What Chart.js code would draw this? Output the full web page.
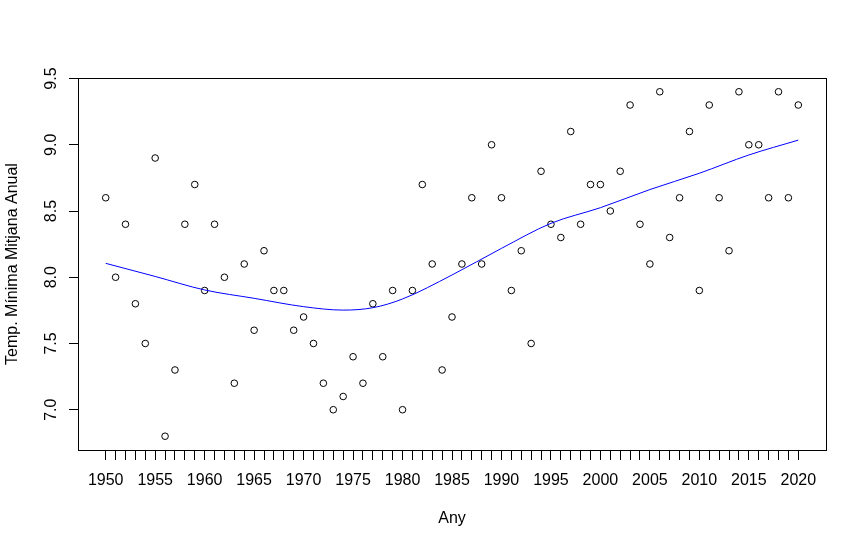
<!DOCTYPE html>
<html>
<head>
<meta charset="utf-8">
<script src="https://cdn.jsdelivr.net/npm/chart.js@4.4.1/dist/chart.umd.min.js"></script>
<style>
  html, body { margin: 0; padding: 0; background: #fff; }
  #wrap { width: 866px; height: 548px; }
</style>
</head>
<body>
<div id="wrap"><canvas id="chart"></canvas></div>
<script>
// Temp. minima mitjana anual, 1950-2020, with lowess trend
const years = [
  1950, 1951, 1952, 1953, 1954, 1955, 1956, 1957, 1958, 1959,
  1960, 1961, 1962, 1963, 1964, 1965, 1966, 1967, 1968, 1969,
  1970, 1971, 1972, 1973, 1974, 1975, 1976, 1977, 1978, 1979,
  1980, 1981, 1982, 1983, 1984, 1985, 1986, 1987, 1988, 1989,
  1990, 1991, 1992, 1993, 1994, 1995, 1996, 1997, 1998, 1999,
  2000, 2001, 2002, 2003, 2004, 2005, 2006, 2007, 2008, 2009,
  2010, 2011, 2012, 2013, 2014, 2015, 2016, 2017, 2018, 2019,
  2020
];
const tempMin = [
  8.6, 8.0, 8.4, 7.8, 7.5, 8.9, 6.8, 7.3, 8.4, 8.7,
  7.9, 8.4, 8.0, 7.2, 8.1, 7.6, 8.2, 7.9, 7.9, 7.6,
  7.7, 7.5, 7.2, 7.0, 7.1, 7.4, 7.2, 7.8, 7.4, 7.9,
  7.0, 7.9, 8.7, 8.1, 7.3, 7.7, 8.1, 8.6, 8.1, 9.0,
  8.6, 7.9, 8.2, 7.5, 8.8, 8.4, 8.3, 9.1, 8.4, 8.7,
  8.7, 8.5, 8.8, 9.3, 8.4, 8.1, 9.4, 8.3, 8.6, 9.1,
  7.9, 9.3, 8.6, 8.2, 9.4, 9.0, 9.0, 8.6, 9.4, 8.6,
  9.3
];
// trend line
const smoothYears = [1950, 1955, 1960, 1965, 1970, 1974, 1977, 1980, 1985, 1990, 1995, 2000, 2005, 2010, 2015, 2020];
const smoothValues = [8.105, 8.006, 7.904, 7.841, 7.778, 7.752, 7.770, 7.836, 8.017, 8.218, 8.407, 8.525, 8.662, 8.785, 8.923, 9.035];
const yTicks = [7.0, 7.5, 8.0, 8.5, 9.0, 9.5];

const FONT_FAMILY = 'Arial, "Liberation Sans", sans-serif';
const FONT = { family: FONT_FAMILY, size: 16 };

// R-style box round the plot and rotated y tick labels
const rBoxPlugin = {
  id: 'rBox',
  afterDraw(chart) {
    const { ctx, chartArea: a, scales } = chart;
    ctx.save();
    ctx.strokeStyle = '#000';
    ctx.lineWidth = 1;
    ctx.strokeRect(Math.round(a.left) + 0.5, Math.round(a.top) + 0.5,
      Math.round(a.right - a.left), Math.round(a.bottom - a.top));

    ctx.font = `16px ${FONT_FAMILY}`;
    ctx.fillStyle = '#000';
    ctx.textAlign = 'center';
    ctx.textBaseline = 'alphabetic';
    scales.y.ticks.forEach((t) => {
      const y = scales.y.getPixelForValue(t.value);
      ctx.save();
      ctx.translate(56, y);
      ctx.rotate(-Math.PI / 2);
      ctx.fillText(t.value.toFixed(1), 0, 0);
      ctx.restore();
    });
    ctx.restore();
  }
};

const points = years.map((y, i) => ({ x: y, y: tempMin[i] }));
const trend = smoothYears.map((y, i) => ({ x: y, y: smoothValues[i] }));

new Chart(document.getElementById('chart'), {
  type: 'scatter',
  data: {
    datasets: [
      {
        label: 'lowess',
        data: trend,
        showLine: true,
        borderColor: '#0000ff',
        borderWidth: 1,
        pointRadius: 0,
        cubicInterpolationMode: 'monotone',
        fill: false
      },
      {
        label: 'Temp',
        data: points,
        pointStyle: 'circle',
        pointRadius: 3.3,
        borderColor: '#000',
        backgroundColor: 'rgba(0,0,0,0)',
        borderWidth: 1
      }
    ]
  },
  options: {
    responsive: true,
    maintainAspectRatio: false,
    animation: false,
    devicePixelRatio: 1,
    layout: { padding: { top: 78, right: 40, left: 0, bottom: 0 } },
    plugins: {
      legend: { display: false },
      tooltip: { enabled: false }
    },
    scales: {
      x: {
        type: 'linear',
        min: 1947.2,
        max: 2022.8,
        afterBuildTicks: (scale) => { scale.ticks = years.map((v) => ({ value: v })); },
        afterFit: (scale) => { scale.height = 98; },
        ticks: {
          autoSkip: false,
          maxRotation: 0,
          minRotation: 0,
          padding: 11,
          color: '#000',
          font: FONT,
          callback: (v) => (v % 5 === 0 ? String(v) : '')
        },
        grid: { drawOnChartArea: false, tickLength: 10, color: '#000', tickColor: '#000' },
        border: { display: false },
        title: { display: true, text: 'Any', color: '#000', font: FONT, padding: { top: 0, bottom: 20 } }
      },
      y: {
        type: 'linear',
        min: 6.696,
        max: 9.504,
        afterBuildTicks: (scale) => { scale.ticks = yTicks.map((v) => ({ value: v })); },
        afterFit: (scale) => { scale.width = 78; },
        ticks: { display: false },
        grid: { drawOnChartArea: false, tickLength: 9, color: '#000', tickColor: '#000' },
        border: { display: false },
        title: { display: true, text: 'Temp. Mínima Mitjana Anual', color: '#000', font: FONT, padding: { top: 3, bottom: 0 } }
      }
    }
  },
  plugins: [rBoxPlugin]
});
</script>
</body>
</html>
